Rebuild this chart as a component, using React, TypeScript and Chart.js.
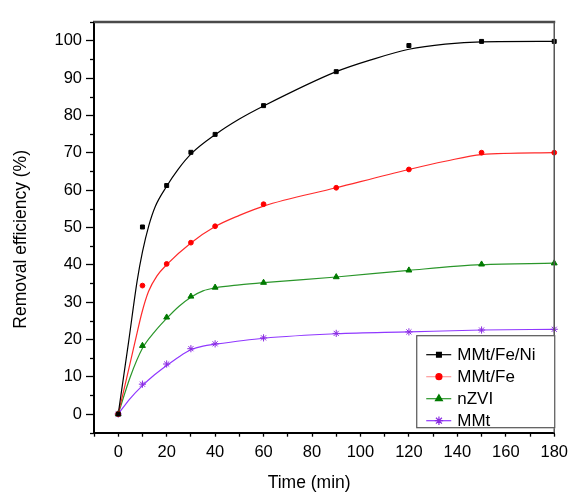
import React, { useEffect, useRef } from 'react';
import { Chart, registerables } from 'chart.js';
import { drawPoint } from 'chart.js/helpers';

Chart.register(...registerables);

// ---------- data ----------
const sampleTimes = [0, 10, 20, 30, 40, 60, 90, 120, 150, 180];
const seriesNames = ['MMt/Fe/Ni', 'MMt/Fe', 'nZVI', 'MMt'];
const xAxisTitle = 'Time (min)';
const yAxisTitle = 'Removal efficiency (%)';

const mmtFeNiMeasured = [0, 50.1, 61.2, 70.1, 74.9, 82.6, 91.7, 98.7, 99.8, 99.8];
const mmtFeMeasured = [0, 34.4, 40.2, 45.9, 50.3, 56.2, 60.6, 65.5, 70.0, 70.0];
const nzviMeasured = [0, 18.3, 25.9, 31.5, 33.9, 35.2, 36.7, 38.5, 40.1, 40.4];
const mmtMeasured = [0, 8.0, 13.4, 17.5, 18.8, 20.4, 21.6, 22.0, 22.5, 22.7];

// fitted curves
const mmtFeNiFitTime = [0, 4.3, 7.8, 10, 12.6, 15.3, 20, 24.8, 30.3, 40, 50, 60, 90, 105, 120, 135, 150, 180];
const mmtFeNiFitValue = [0, 19.4, 35.6, 43.4, 50.4, 55.6, 61.0, 65.6, 69.8, 74.8, 79.0, 82.5, 91.7, 95.0, 97.7, 99.1, 99.7, 99.8];

const mmtFeFitTime = [0, 3, 7, 9.8, 12.5, 16, 20, 30, 40, 50, 60, 90, 120, 135, 150, 180];
const mmtFeFitValue = [0, 8.3, 19.5, 27.2, 32.8, 37.0, 40.0, 45.8, 50.2, 53.2, 55.7, 60.6, 65.5, 67.7, 69.5, 70.0];

const nzviFitTime = [0, 5, 10, 15, 20, 25, 30, 35, 40, 50, 60, 90, 120, 150, 180];
const nzviFitValue = [0, 10.0, 17.6, 22.0, 25.6, 28.8, 31.3, 33.0, 33.8, 34.6, 35.2, 36.7, 38.5, 40.0, 40.4];

const mmtFitTime = [0, 5, 10, 15, 20, 25, 30, 35, 40, 60, 90, 120, 150, 180];
const mmtFitValue = [0, 4.2, 7.6, 10.5, 13.0, 15.3, 17.2, 18.2, 18.7, 20.3, 21.5, 22.0, 22.5, 22.7];

// axes
const xMin = -10;
const xMax = 180;
const xStep = 10;
const xLabelStep = 20;
const yMin = -5;
const yMax = 105;
const yStep = 5;
const yLabelStep = 10;

// ---------- styles ----------
const FONT = "'Liberation Sans', Arial, sans-serif";
const lineColors = ['#000000', '#ff2a2a', '#2a962a', '#9038ff'];
const markerColors = ['#000000', '#ff0000', '#007a00', '#8a2be2'];
const markerStyles = ['rect', 'circle', 'triangle', 'star'];
const markerRadius = [2.8, 2.4, 3.4, 3.6];

const toXY = (xs: number[], ys: number[]) => xs.map((x, i) => ({ x, y: ys[i] }));

const measured = [mmtFeNiMeasured, mmtFeMeasured, nzviMeasured, mmtMeasured];
const fits = [
  toXY(mmtFeNiFitTime, mmtFeNiFitValue),
  toXY(mmtFeFitTime, mmtFeFitValue),
  toXY(nzviFitTime, nzviFitValue),
  toXY(mmtFitTime, mmtFitValue),
];

const framePlugin = {
  id: 'frameAndLegend',
  afterDraw(chart: any) {
    const { ctx, chartArea: a, scales } = chart;
    const ys = scales.y;
    ctx.save();
    // top frame
    ctx.strokeStyle = '#4a4a4a';
    ctx.lineWidth = 2.5;
    ctx.beginPath();
    ctx.moveTo(a.left - 1, a.top);
    ctx.lineTo(a.right + 1, a.top);
    ctx.stroke();
    // right frame
    ctx.strokeStyle = '#555555';
    ctx.lineWidth = 1.5;
    ctx.beginPath();
    ctx.moveTo(a.right, a.top);
    ctx.lineTo(a.right, a.bottom);
    ctx.stroke();
    // minor y ticks
    ctx.strokeStyle = '#000';
    ctx.lineWidth = 1.3;
    for (let v = yMin; v <= yMax; v += yStep) {
      if (v % yLabelStep === 0) continue;
      const py = Math.round(ys.getPixelForValue(v)) + 0.5;
      ctx.beginPath();
      ctx.moveTo(a.left - 4, py);
      ctx.lineTo(a.left, py);
      ctx.stroke();
    }
    // axis titles
    ctx.fillStyle = '#000';
    ctx.font = `17.5px ${FONT}`;
    ctx.textAlign = 'center';
    ctx.textBaseline = 'middle';
    ctx.fillText(xAxisTitle, (a.left + a.right) / 2 - 15, 483);
    ctx.save();
    ctx.translate(21, (a.top + a.bottom) / 2 + 12);
    ctx.rotate(-Math.PI / 2);
    ctx.fillText(yAxisTitle, 0, 0);
    ctx.restore();
    // legend
    const w = 139;
    const h = 93;
    const right = a.right + 1;
    const bottom = a.bottom - 4.5;
    const left = right - w;
    const top = bottom - h;
    ctx.fillStyle = '#ffffff';
    ctx.fillRect(left, top, w, h);
    ctx.strokeStyle = '#555555';
    ctx.lineWidth = 1.2;
    ctx.strokeRect(left + 0.5, top + 0.5, w - 1, h - 1);
    ctx.font = `17px ${FONT}`;
    ctx.textBaseline = 'middle';
    ctx.textAlign = 'left';
    seriesNames.forEach((name, i) => {
      const cy = top + 19.5 + i * 22;
      ctx.strokeStyle = i === 1 ? '#ff9a9a' : lineColors[i];
      ctx.lineWidth = 1.2;
      ctx.beginPath();
      ctx.moveTo(left + 10, cy);
      ctx.lineTo(left + 35, cy);
      ctx.stroke();
      ctx.fillStyle = markerColors[i];
      ctx.strokeStyle = markerColors[i];
      drawPoint(ctx, { pointStyle: markerStyles[i], radius: markerRadius[i] + 0.6, rotation: 0, borderWidth: 1 } as any, left + 22.7, cy);
      ctx.fillStyle = '#000';
      ctx.fillText(name, left + 41, cy + 1);
    });
    ctx.restore();
  },
};

export default function App() {
  const canvasRef = useRef<HTMLCanvasElement | null>(null);

  useEffect(() => {
    document.body.style.margin = '0';
    const canvas = canvasRef.current;
    if (!canvas) return;

    const pointSets = measured.map((vals, i) => ({
      label: seriesNames[i],
      data: toXY(sampleTimes, vals),
      showLine: false,
      pointStyle: markerStyles[i],
      pointRadius: markerRadius[i],
      pointBackgroundColor: markerColors[i],
      pointBorderColor: markerColors[i],
      pointBorderWidth: 1,
      clip: false as any,
      order: 0,
    }));
    const lineSets = fits.map((pts, i) => ({
      label: seriesNames[i] + ' fit',
      data: pts,
      showLine: true,
      borderColor: lineColors[i],
      borderWidth: 1.2,
      pointRadius: 0,
      cubicInterpolationMode: 'monotone' as const,
      fill: false,
      order: 1,
    }));

    const chart = new Chart(canvas, {
      type: 'scatter',
      data: { datasets: [...pointSets, ...lineSets] as any },
      options: {
        animation: false,
        responsive: false,
        devicePixelRatio: 1,
        events: [],
        layout: { padding: { left: 0, top: 22, right: 17, bottom: 0 } },
        plugins: { legend: { display: false }, tooltip: { enabled: false }, title: { display: false } },
        scales: {
          x: {
            type: 'linear',
            min: xMin,
            max: xMax,
            afterFit: (s: any) => { s.height = 62.3; },
            ticks: {
              stepSize: xStep,
              autoSkip: false,
              maxRotation: 0,
              padding: 6,
              color: '#000',
              font: { family: FONT, size: 16.5 },
              callback: (v: any) => (v >= 0 && v % xLabelStep === 0 ? String(v) : ''),
            },
            grid: { drawOnChartArea: false, drawTicks: true, tickLength: 4, tickColor: '#000', tickWidth: 1.3 },
            border: { display: true, color: '#000', width: 2 },
            title: { display: false },
          },
          y: {
            type: 'linear',
            min: yMin,
            max: yMax,
            afterFit: (s: any) => { s.width = 94; },
            ticks: {
              stepSize: yStep,
              autoSkip: false,
              padding: 4,
              color: '#000',
              font: { family: FONT, size: 16.5 },
              callback: (v: any) => (v % yLabelStep === 0 ? String(v) : ''),
            },
            grid: {
              drawOnChartArea: false,
              drawTicks: true,
              tickLength: 8,
              tickWidth: 1.3,
              tickColor: (c: any) => (c.tick && c.tick.value % yLabelStep === 0 ? '#000' : 'rgba(0,0,0,0)'),
            },
            border: { display: true, color: '#000', width: 2 },
            title: { display: false },
          },
        },
      },
      plugins: [framePlugin],
    });

    return () => chart.destroy();
  }, []);

  return (
    <div style={{ width: 574, height: 495, position: 'relative', background: '#ffffff' }}>
      <canvas ref={canvasRef} width={574} height={495} style={{ display: 'block' }} />
    </div>
  );
}
